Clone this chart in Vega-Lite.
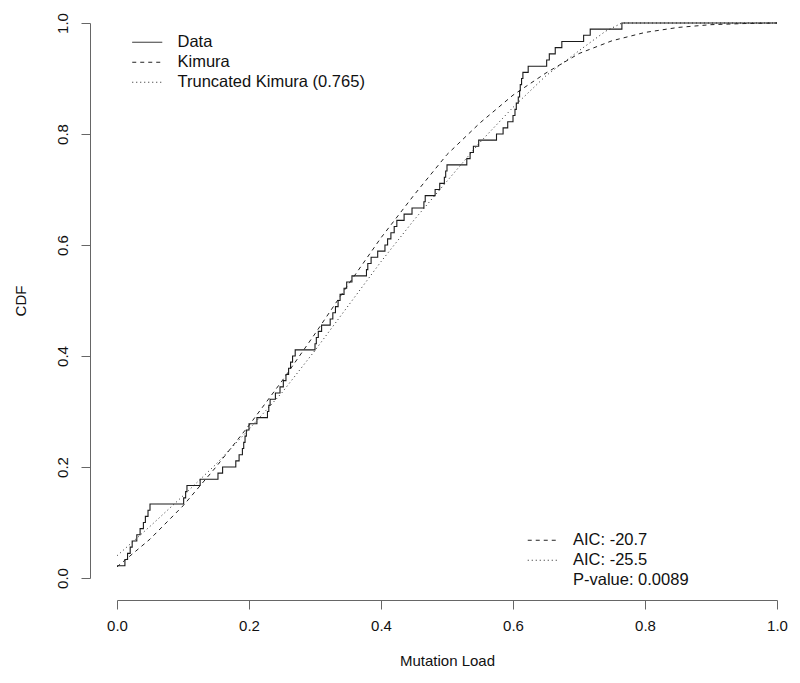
{
  "$schema": "https://vega.github.io/schema/vega-lite/v6.json",
  "width": 660,
  "height": 555,
  "autosize": {"type": "none"},
  "padding": {"left": 117, "top": 23, "right": 23, "bottom": 105},
  "background": "white",
  "config": {
    "view": {"stroke": null},
    "font": "Liberation Sans",
    "axis": {
      "grid": false,
      "domainColor": "#666",
      "tickColor": "#666",
      "tickSize": 9,
      "labelFontSize": 15,
      "labelColor": "#111",
      "titleFontSize": 15,
      "titleFontWeight": "normal",
      "titleColor": "#111",
      "labelFlush": false,
      "labelOverlap": false
    },
    "legend": {
      "title": null,
      "orient": "none",
      "symbolType": "M-1.464,0H1.464",
      "symbolSize": 420,
      "symbolStrokeWidth": 1,
      "symbolStrokeColor": "#222",
      "symbolFillColor": "transparent",
      "labelFontSize": 16.5,
      "labelColor": "#111",
      "labelOffset": 19.25,
      "labelLimit": 0,
      "rowPadding": 0
    }
  },
  "datasets": {
    "ecdf": [
      {"x": 0.000, "y": 0.0222}, {"x": 0.012, "y": 0.0333}, {"x": 0.016, "y": 0.0444},
      {"x": 0.020, "y": 0.0556}, {"x": 0.023, "y": 0.0667}, {"x": 0.030, "y": 0.0778},
      {"x": 0.035, "y": 0.0889}, {"x": 0.040, "y": 0.1000}, {"x": 0.043, "y": 0.1111},
      {"x": 0.047, "y": 0.1222}, {"x": 0.050, "y": 0.1333}, {"x": 0.101, "y": 0.1444},
      {"x": 0.104, "y": 0.1556}, {"x": 0.106, "y": 0.1667}, {"x": 0.126, "y": 0.1778},
      {"x": 0.153, "y": 0.1889}, {"x": 0.160, "y": 0.2000}, {"x": 0.180, "y": 0.2111},
      {"x": 0.185, "y": 0.2222}, {"x": 0.190, "y": 0.2333}, {"x": 0.192, "y": 0.2444},
      {"x": 0.194, "y": 0.2556}, {"x": 0.196, "y": 0.2667}, {"x": 0.200, "y": 0.2778},
      {"x": 0.212, "y": 0.2889}, {"x": 0.228, "y": 0.3000}, {"x": 0.230, "y": 0.3111},
      {"x": 0.232, "y": 0.3222}, {"x": 0.240, "y": 0.3333}, {"x": 0.247, "y": 0.3444},
      {"x": 0.252, "y": 0.3556}, {"x": 0.256, "y": 0.3667}, {"x": 0.260, "y": 0.3778},
      {"x": 0.263, "y": 0.3889}, {"x": 0.266, "y": 0.4000}, {"x": 0.270, "y": 0.4111},
      {"x": 0.300, "y": 0.4222}, {"x": 0.302, "y": 0.4333}, {"x": 0.305, "y": 0.4444},
      {"x": 0.310, "y": 0.4556}, {"x": 0.323, "y": 0.4667}, {"x": 0.327, "y": 0.4778},
      {"x": 0.331, "y": 0.4889}, {"x": 0.335, "y": 0.5000}, {"x": 0.338, "y": 0.5111},
      {"x": 0.344, "y": 0.5222}, {"x": 0.348, "y": 0.5333}, {"x": 0.356, "y": 0.5444},
      {"x": 0.378, "y": 0.5556}, {"x": 0.380, "y": 0.5667}, {"x": 0.385, "y": 0.5778},
      {"x": 0.395, "y": 0.5889}, {"x": 0.406, "y": 0.6000}, {"x": 0.410, "y": 0.6111},
      {"x": 0.415, "y": 0.6222}, {"x": 0.420, "y": 0.6333}, {"x": 0.424, "y": 0.6444},
      {"x": 0.435, "y": 0.6556}, {"x": 0.447, "y": 0.6667}, {"x": 0.465, "y": 0.6778},
      {"x": 0.467, "y": 0.6889}, {"x": 0.482, "y": 0.7000}, {"x": 0.489, "y": 0.7111},
      {"x": 0.496, "y": 0.7222}, {"x": 0.498, "y": 0.7333}, {"x": 0.500, "y": 0.7444},
      {"x": 0.530, "y": 0.7556}, {"x": 0.535, "y": 0.7667}, {"x": 0.540, "y": 0.7778},
      {"x": 0.548, "y": 0.7889}, {"x": 0.575, "y": 0.8000}, {"x": 0.585, "y": 0.8111},
      {"x": 0.592, "y": 0.8222}, {"x": 0.600, "y": 0.8333}, {"x": 0.603, "y": 0.8444},
      {"x": 0.605, "y": 0.8556}, {"x": 0.608, "y": 0.8667}, {"x": 0.610, "y": 0.8778},
      {"x": 0.611, "y": 0.8889}, {"x": 0.613, "y": 0.9000}, {"x": 0.615, "y": 0.9111},
      {"x": 0.623, "y": 0.9222}, {"x": 0.651, "y": 0.9333}, {"x": 0.655, "y": 0.9444},
      {"x": 0.664, "y": 0.9556}, {"x": 0.674, "y": 0.9667}, {"x": 0.707, "y": 0.9778},
      {"x": 0.717, "y": 0.9889}, {"x": 0.765, "y": 1.0}, {"x": 1.0, "y": 1.0}
    ],
    "fits": [
      {"model": "Kimura", "x": 0.00, "y": 0.020},
      {"model": "Kimura", "x": 0.05, "y": 0.070},
      {"model": "Kimura", "x": 0.10, "y": 0.130},
      {"model": "Kimura", "x": 0.15, "y": 0.200},
      {"model": "Kimura", "x": 0.20, "y": 0.275},
      {"model": "Kimura", "x": 0.25, "y": 0.355},
      {"model": "Kimura", "x": 0.30, "y": 0.440},
      {"model": "Kimura", "x": 0.35, "y": 0.528},
      {"model": "Kimura", "x": 0.40, "y": 0.613},
      {"model": "Kimura", "x": 0.45, "y": 0.690},
      {"model": "Kimura", "x": 0.50, "y": 0.763},
      {"model": "Kimura", "x": 0.55, "y": 0.820},
      {"model": "Kimura", "x": 0.60, "y": 0.870},
      {"model": "Kimura", "x": 0.65, "y": 0.910},
      {"model": "Kimura", "x": 0.70, "y": 0.945},
      {"model": "Kimura", "x": 0.75, "y": 0.968},
      {"model": "Kimura", "x": 0.80, "y": 0.983},
      {"model": "Kimura", "x": 0.85, "y": 0.992},
      {"model": "Kimura", "x": 0.90, "y": 0.997},
      {"model": "Kimura", "x": 0.95, "y": 0.999},
      {"model": "Kimura", "x": 1.00, "y": 1.000},
      {"model": "Truncated Kimura (0.765)", "x": 0.00, "y": 0.040},
      {"model": "Truncated Kimura (0.765)", "x": 0.05, "y": 0.093},
      {"model": "Truncated Kimura (0.765)", "x": 0.10, "y": 0.148},
      {"model": "Truncated Kimura (0.765)", "x": 0.15, "y": 0.205},
      {"model": "Truncated Kimura (0.765)", "x": 0.20, "y": 0.268},
      {"model": "Truncated Kimura (0.765)", "x": 0.25, "y": 0.334},
      {"model": "Truncated Kimura (0.765)", "x": 0.30, "y": 0.410},
      {"model": "Truncated Kimura (0.765)", "x": 0.35, "y": 0.490},
      {"model": "Truncated Kimura (0.765)", "x": 0.40, "y": 0.570},
      {"model": "Truncated Kimura (0.765)", "x": 0.45, "y": 0.645},
      {"model": "Truncated Kimura (0.765)", "x": 0.50, "y": 0.715},
      {"model": "Truncated Kimura (0.765)", "x": 0.55, "y": 0.785},
      {"model": "Truncated Kimura (0.765)", "x": 0.60, "y": 0.848},
      {"model": "Truncated Kimura (0.765)", "x": 0.65, "y": 0.905},
      {"model": "Truncated Kimura (0.765)", "x": 0.70, "y": 0.950},
      {"model": "Truncated Kimura (0.765)", "x": 0.74, "y": 0.985},
      {"model": "Truncated Kimura (0.765)", "x": 0.765, "y": 1.000},
      {"model": "Truncated Kimura (0.765)", "x": 1.00, "y": 1.000}
    ],
    "stats": [
      {"model": "Kimura", "stat": "AIC: -20.7"},
      {"model": "Truncated Kimura (0.765)", "stat": "AIC: -25.5"},
      {"model": "Data", "stat": "P-value: 0.0089"}
    ]
  },
  "encoding": {
    "x": {
      "field": "x", "type": "quantitative",
      "scale": {"domain": [0, 1], "nice": false, "zero": false},
      "axis": {"values": [0, 0.2, 0.4, 0.6, 0.8, 1], "format": ".1f", "offset": 22, "labelPadding": 9, "title": "Mutation Load", "titlePadding": 20}
    },
    "y": {
      "field": "y", "type": "quantitative",
      "scale": {"domain": [0, 1], "nice": false, "zero": false},
      "axis": {"values": [0, 0.2, 0.4, 0.6, 0.8, 1], "format": ".1f", "offset": 27, "labelAngle": -90, "labelPadding": 11, "title": "CDF", "titlePadding": 27}
    }
  },
  "layer": [
    {
      "layer": [
        {
          "data": {"name": "ecdf"},
          "mark": {"type": "line", "interpolate": "step-after", "color": "#1a1a1a", "strokeWidth": 1.1},
          "encoding": {
            "strokeDash": {
              "datum": "Data",
              "scale": {"domain": ["Data", "Kimura", "Truncated Kimura (0.765)"], "range": [[1, 0], [4, 4], [1, 3]]},
              "legend": {"legendX": 19.25, "legendY": 8.25}
            }
          }
        },
        {
          "data": {"name": "fits"},
          "mark": {"type": "line", "color": "#222", "strokeWidth": 1},
          "encoding": {
            "strokeDash": {"field": "model", "type": "nominal"}
          }
        }
      ]
    },
    {
      "data": {"name": "fits"},
      "transform": [
        {"lookup": "model", "from": {"data": {"name": "stats"}, "key": "model", "fields": ["stat"]}}
      ],
      "mark": {"type": "line", "color": "#222", "strokeWidth": 1, "opacity": 0},
      "encoding": {
        "strokeDash": {
          "field": "stat", "type": "nominal",
          "scale": {"domain": ["AIC: -20.7", "AIC: -25.5", "P-value: 0.0089"], "range": [[4, 4], [1, 3], [0, 100]]},
          "legend": {"legendX": 414.75, "legendY": 506.25, "encode": {"symbols": {"update": {"opacity": {"value": 1}}}}}
        }
      }
    }
  ],
  "resolve": {"scale": {"strokeDash": "independent"}, "legend": {"strokeDash": "independent"}}
}
